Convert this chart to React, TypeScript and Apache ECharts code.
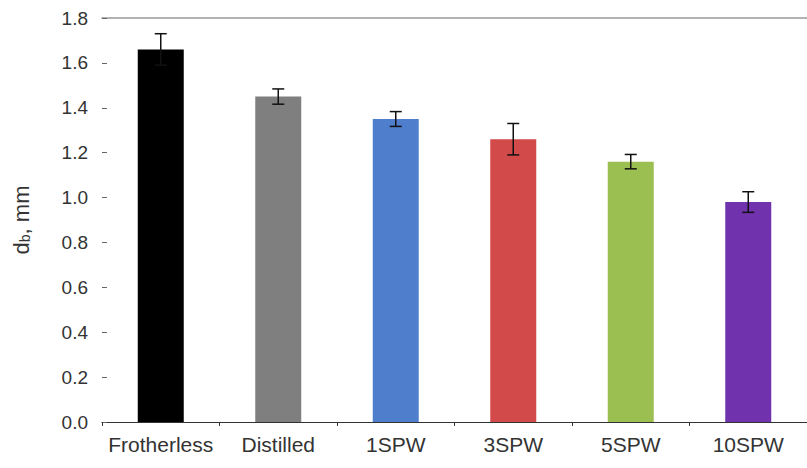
import React, { useEffect, useRef } from "react";
import * as echarts from "echarts";

const categories = ["Frotherless", "Distilled", "1SPW", "3SPW", "5SPW", "10SPW"];
const values = [1.66, 1.45, 1.35, 1.26, 1.16, 0.98];
const errors = [0.07, 0.034, 0.033, 0.07, 0.032, 0.046];
const colors = ["#000000", "#7f7f7f", "#4f7fcc", "#d24a4a", "#9cbf52", "#7132ae"];

export default function App() {
  const ref = useRef<HTMLDivElement>(null);
  useEffect(() => {
    document.body.style.margin = "0";
    const chart = echarts.init(ref.current!, null, { renderer: "svg" });
    const font = "Arial, 'Liberation Sans', sans-serif";
    chart.setOption({
      animation: false,
      grid: { left: 102, top: 18, width: 710, bottom: 46 },
      xAxis: [
        {
          type: "category",
          data: categories,
          axisLine: { lineStyle: { color: "#333", width: 1.2 } },
          axisTick: { show: true, length: 4, lineStyle: { color: "#333" } },
          axisLabel: { color: "#333", fontSize: 21, fontFamily: font, margin: 12, interval: 0, hideOverlap: false },
        },
        {
          type: "category",
          data: categories,
          position: "top",
          axisLine: { lineStyle: { color: "#999", width: 1.5 } },
          axisTick: { show: false },
          axisLabel: { show: false },
        },
      ],
      yAxis: {
        type: "value",
        min: 0,
        max: 1.8,
        interval: 0.2,
        axisLine: { show: false },
        axisTick: { show: true, inside: true, length: 5, lineStyle: { color: "#666" } },
        splitLine: { show: false },
        axisLabel: {
          color: "#333",
          fontSize: 19,
          fontFamily: font,
          margin: 14,
          formatter: (v: number) => v.toFixed(1),
        },
        name: "{n|d}{s|b}{n|, mm}",
        nameLocation: "middle",
        nameGap: 70,
        nameRotate: 90,
        nameTextStyle: {
          rich: {
            n: { fontSize: 22, color: "#333", fontFamily: font },
            s: { fontSize: 14, color: "#333", fontFamily: font, verticalAlign: "bottom", padding: [8, 0, 0, 0] },
          },
        },
      },
      series: [
        {
          type: "bar",
          barWidth: 46,
          data: values.map((v, i) => ({ value: v, itemStyle: { color: colors[i] } })),
        },
        {
          type: "custom",
          data: values.map((v, i) => [i, v - errors[i], v + errors[i]]),
          renderItem: (params: any, api: any) => {
            const x = api.value(0);
            const lo = api.coord([x, api.value(1)]);
            const hi = api.coord([x, api.value(2)]);
            const hw = 6;
            const style = { stroke: "#111", lineWidth: 1.5 };
            return {
              type: "group",
              children: [
                { type: "line", shape: { x1: hi[0], y1: hi[1], x2: lo[0], y2: lo[1] }, style },
                { type: "line", shape: { x1: hi[0] - hw, y1: hi[1], x2: hi[0] + hw, y2: hi[1] }, style },
                { type: "line", shape: { x1: lo[0] - hw, y1: lo[1], x2: lo[0] + hw, y2: lo[1] }, style },
              ],
            };
          },
          z: 10,
        },
      ],
    });
    return () => chart.dispose();
  }, []);
  return <div ref={ref} style={{ width: 807, height: 468 }} />;
}
